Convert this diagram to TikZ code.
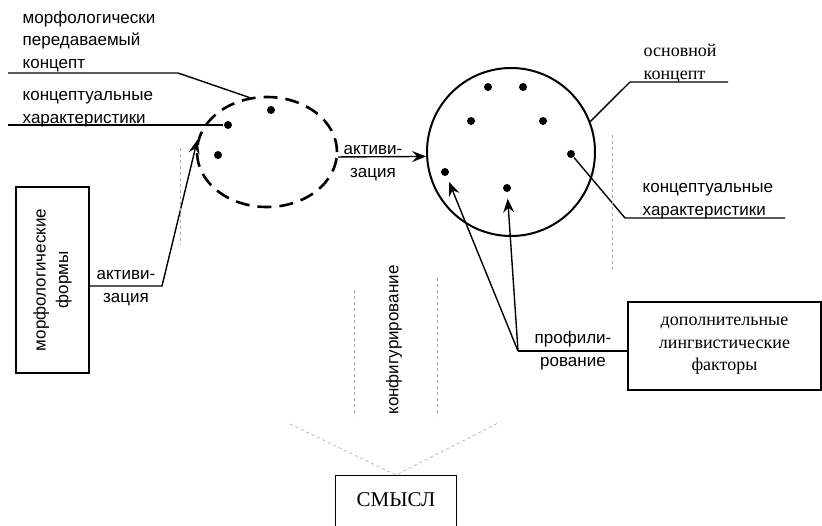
\documentclass[tikz,border=0pt]{standalone}
\usepackage{fontspec}
\setmainfont{Liberation Serif}
\setsansfont{Liberation Sans}
\usetikzlibrary{shapes.geometric,arrows.meta}

\begin{document}
\begin{tikzpicture}[x=1pt,y=-1pt,line width=1.4pt,
    sans/.style={font=\sffamily\fontsize{17}{22.5}\selectfont, inner sep=0pt, align=left},
    serif/.style={font=\fontsize{18}{22.5}\selectfont, inner sep=0pt, align=center},
    dot/.style={circle, fill, inner sep=0pt, minimum size=8pt},
    arr/.style={-{Stealth[length=14pt,width=11pt,inset=5pt]}},
    faint/.style={gray!70, dashed, line width=0.6pt}]
        \useasboundingbox (0,0) rectangle (822,525);
        % the two concepts
        \node[draw, ellipse, dash pattern=on 14pt off 8pt, line width=2.6pt, minimum width=140, minimum height=110] (mconc) at (267,152) {};
        \node[draw, circle, line width=2pt, minimum size=168] (bconc) at (511,152) {};
        \foreach \n/\p in {1/{(271,110)}, 2/{(228,125)}, 3/{(218,155)}}{
            \node[dot] (md\n) at \p {};
        }
        \foreach \n/\p in {1/{(488,87)}, 2/{(523,87)}, 3/{(471,121)}, 4/{(543,121)}, 5/{(571,154)}, 6/{(445,172)}, 7/{(507,188)}}{
            \node[dot] (bd\n) at \p {};
        }
        % labels with their lines
        \node[sans, anchor=base west] (tmorph) at (22,68) {морфологически\\передаваемый\\концепт};
        \node[sans, anchor=base west] (tcharl) at (22,123) {концептуальные\\характеристики};
        \node[serif, anchor=base west, align=left] (tmain) at (643,79) {основной\\концепт};
        \node[sans, anchor=base west] (tcharr) at (642,215) {концептуальные\\характеристики};
        \coordinate (u1) at (8,73);
        \coordinate (u2) at (8,125);
        \coordinate (u3) at (728,82);
        \coordinate (u4) at (785,218);
        \draw (u1) -- (178,73) -- (mconc.108);
        \draw (u2) -- (md2);
        \draw (u3) -- (630,82) -- (bconc.21);
        \draw (u4) -- (625,218) -- (bd5);
        % boxes
        \node[draw, sans, rotate=90, align=center, minimum width=186, minimum height=73] (mform) at (52.5,280) {морфологические\\формы};
        \node[draw, serif, minimum width=193, minimum height=88] (addf) at (724.5,346) {дополнительные\\лингвистические\\факторы};
        \node[draw, serif, font=\fontsize{21}{24}\selectfont, anchor=north, minimum width=121, text height=23pt, text depth=40pt, inner ysep=8pt] (sense) at (396,475) {СМЫСЛ};
        % activation and profiling
        \coordinate (b1) at (162,286);
        \draw[arr] (mform.south |- b1) -- (b1) -- (mconc.170);
        \node[sans, align=center, anchor=base] (tactl) at (126,302) {активи-\\зация};
        \draw[arr] (mconc.-4) -- (bconc.183);
        \node[sans, align=center, anchor=base] (tactm) at (373,177) {активи-\\зация};
        \coordinate (pj) at (518,351);
        \draw[arr, shorten >=6pt] (pj) -- (bd6);
        \draw[arr, shorten >=6pt] (pj) -- (bd7);
        \draw (pj) -- (pj -| addf.west);
        \node[sans, align=center, anchor=base] (tprof) at (573,366) {профили-\\рование};
        % configuring
        \draw[faint] (354,290) -- (354,416);
        \draw[faint] (437,278) -- (437,416);
        \draw[faint] (290,424) -- (sense.north) -- (500,422);
        \node[sans, rotate=90] (tconf) at (394,340) {конфигурирование};
        \draw[faint] (180,148) -- (180,245);
        \draw[faint] (612,135) -- (612,272);
    \end{tikzpicture}
\end{document}
